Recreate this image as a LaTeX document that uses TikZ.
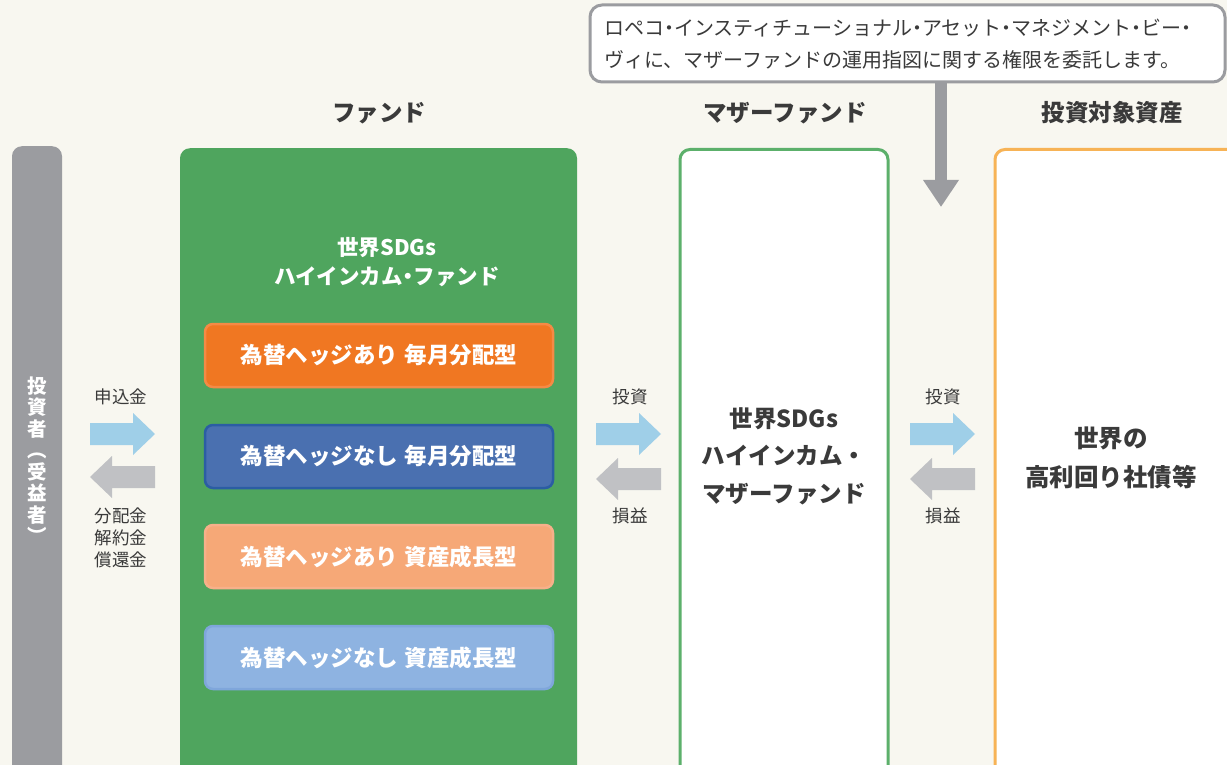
\documentclass[tikz,border=0pt]{standalone}
\usepackage{fontspec}
\setmainfont{Noto Sans CJK JP}
\usetikzlibrary{arrows.meta}
\definecolor{bg}{HTML}{F8F7F0}
\definecolor{invgray}{HTML}{9B9CA0}
\definecolor{fundgreen}{HTML}{4FA55E}
\definecolor{mothergreen}{HTML}{5CB06B}
\definecolor{boxorange}{HTML}{F07722}
\definecolor{boxorangeb}{HTML}{F58A45}
\definecolor{boxblue}{HTML}{4A70B0}
\definecolor{boxblueb}{HTML}{2B5DA3}
\definecolor{boxlorange}{HTML}{F6A877}
\definecolor{boxlorangeb}{HTML}{F7B08A}
\definecolor{boxlblue}{HTML}{8EB3E1}
\definecolor{boxlblueb}{HTML}{7FA6DB}
\definecolor{targetorange}{HTML}{F7B356}
\definecolor{arrblue}{HTML}{9FCFE8}
\definecolor{arrgray}{HTML}{C0C1C4}
\definecolor{txtdark}{HTML}{3A3A3A}
\newcommand\nd{\kern-0.25em・\kern-0.25em}
\newcommand\flowR[2]{\fill[arrblue] (#1,#2-11) -- (#1+43,#2-11) -- (#1+43,#2-21) -- (#1+65,#2) -- (#1+43,#2+21) -- (#1+43,#2+11) -- (#1,#2+11) -- cycle;}
\newcommand\flowL[2]{\fill[arrgray] (#1+65,#2-11) -- (#1+22,#2-11) -- (#1+22,#2-21) -- (#1,#2) -- (#1+22,#2+21) -- (#1+22,#2+11) -- (#1+65,#2+11) -- cycle;}
\tikzset{
  column/.style={rectangle, rounded corners=10pt, anchor=north, inner sep=0pt},
  subbox/.style={rectangle, rounded corners=8pt, minimum width=348pt, minimum height=63pt, line width=2.5pt, text=white, font=\fontsize{22.5}{26}\selectfont\bfseries, inner sep=0pt},
  header/.style={text=txtdark, font=\fontsize{23.5}{27}\selectfont\bfseries},
  flowlabel/.style={text=txtdark, font=\fontsize{17.5}{22}\selectfont, align=center, inner sep=0pt},
  bigtext/.style={text=txtdark, font=\fontsize{23.5}{37.5}\selectfont\bfseries, align=center},
}
\begin{document}
\begin{tikzpicture}[x=1pt,y=-1pt]
\useasboundingbox (0,0) rectangle (1227,765);
\clip (0,0) rectangle (1227,765);
\fill[bg] (0,0) rectangle (1227,765);
% columns
\node[column, fill=invgray, minimum width=50pt, minimum height=660pt] (investor) at (37,146) {};
\node[text=white, font=\fontsize{19.5}{21.5}\selectfont\bfseries, align=center] (investortext) at (37,460) {投\\資\\者\\︵\\受\\益\\者\\︶};
\node[column, fill=fundgreen, minimum width=397pt, minimum height=660pt] (fund) at (378.5,148) {};
\node[column, fill=white, draw=mothergreen, line width=3pt, minimum width=208pt, minimum height=660pt] (mother) at (784,148) {};
\node[column, fill=white, draw=targetorange, line width=3pt, minimum width=245pt, minimum height=660pt] (target) at (1117.5,148) {};
% headers
\node[header] (hfund) at (379,113) {ファンド};
\node[header] (hmother) at (785,113) {マザーファンド};
\node[header] (htarget) at (1112,113) {投資対象資産};
% fund title
\node[text=white, font=\fontsize{21.5}{29}\selectfont\bfseries, align=center] (fundtitle) at (387,262) {世界SDGs\\ハイインカム\nd ファンド};
% sub boxes
\node[subbox, fill=boxorange, draw=boxorangeb] (b1) at (379,355.5) {為替ヘッジあり\hspace{0.3em}毎月分配型};
\node[subbox, fill=boxblue, draw=boxblueb] (b2) at (379,456.5) {為替ヘッジなし\hspace{0.3em}毎月分配型};
\node[subbox, fill=boxlorange, draw=boxlorangeb] (b3) at (379,556.5) {為替ヘッジあり\hspace{0.3em}資産成長型};
\node[subbox, fill=boxlblue, draw=boxlblueb] (b4) at (379,657.5) {為替ヘッジなし\hspace{0.3em}資産成長型};
% mother & target texts
\node[bigtext] (mothertext) at (784,456) {世界SDGs\\ハイインカム・\\マザーファンド};
\node[bigtext, font=\fontsize{24.5}{39}\selectfont\bfseries] (targettext) at (1111,458) {世界の\\高利回り社債等};
% flow arrows
\flowR{90}{434}
\flowL{90}{477}
\flowR{596}{434}
\flowL{596}{479}
\flowR{910}{434}
\flowL{910}{479}
\node[flowlabel] (l1) at (121,397) {申込金};
\node[flowlabel] (l2) at (121,538) {分配金\\解約金\\償還金};
\node[flowlabel] (l3) at (630,397) {投資};
\node[flowlabel] (l4) at (630,516) {損益};
\node[flowlabel] (l5) at (943,397) {投資};
\node[flowlabel] (l6) at (943,516) {損益};
% callout
\node[rectangle, rounded corners=12pt, fill=white, draw=invgray, line width=3pt, minimum width=635pt, minimum height=77pt, inner sep=0pt] (callout) at (907.5,43.5) {};
\node[anchor=west, text=txtdark, font=\fontsize{20}{32}\selectfont, align=left, inner sep=0pt] (callouttext) at (604,44) {ロペコ\nd インスティチューショナル\nd アセット\nd マネジメント\nd ビー\nd\\ヴィに、マザーファンドの運用指図に関する権限を委託します。};
\coordinate (arrowend) at (941,207);
\draw[invgray, line width=12pt, -{Triangle[width=34pt,length=27pt]}] (callout.south -| arrowend) -- (arrowend);
\end{tikzpicture}
\end{document}
